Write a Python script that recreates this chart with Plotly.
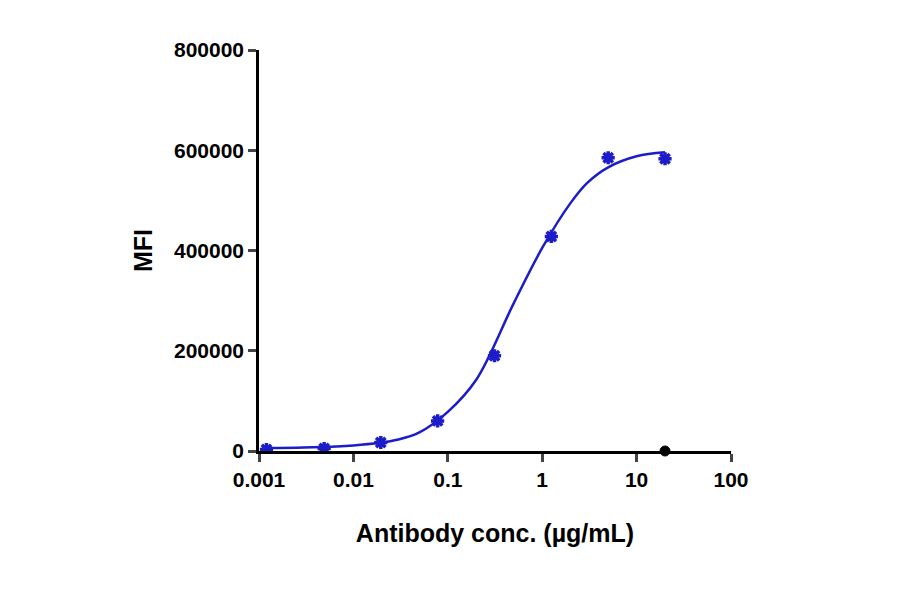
import plotly.graph_objects as go

conc = [20, 5, 1.25, 0.3125, 0.078, 0.0195, 0.0049, 0.0012]
mfi = [583000, 585000, 428000, 190000, 60000, 17000, 5000, 3000]
ctrl_x = [20]
ctrl_y = [0]
fit_x = [0.0012, 0.003, 0.01, 0.03, 0.05, 0.1, 0.2, 0.5, 1, 2, 3, 5, 10, 20]
fit_y = [6000, 7000, 11000, 23000, 37000, 78000, 142000, 295000, 405000, 495000, 535000, 566000, 588000, 596000]
yticks = [0, 200000, 400000, 600000, 800000]
xticks = [0.001, 0.01, 0.1, 1, 10, 100]
xticklabels = ["0.001", "0.01", "0.1", "1", "10", "100"]

blue = "#1c1cc8"
fig = go.Figure()
fig.add_trace(go.Scatter(x=fit_x, y=fit_y, mode="lines", line=dict(color=blue, width=2.5, shape="spline", smoothing=1.0), hoverinfo="skip"))
fig.add_trace(go.Scatter(x=conc, y=mfi, mode="markers",
                         marker=dict(symbol="asterisk-open", size=11, color=blue, line=dict(color=blue, width=3.5))))
fig.add_trace(go.Scatter(x=ctrl_x, y=ctrl_y, mode="markers",
                         marker=dict(symbol="circle", size=10, color="black", line=dict(color="black", width=1)),
                         cliponaxis=False))
font = dict(family="Liberation Sans, Arial", color="black")
fig.update_layout(
    width=900, height=594, showlegend=False, plot_bgcolor="white", paper_bgcolor="white",
    margin=dict(l=251, r=177, t=42, b=151),
    font=font,
    xaxis=dict(type="log", range=[-3, 2], tickvals=xticks, ticktext=["<b>%s</b>" % t for t in xticklabels],
               showgrid=False, zeroline=False, showline=True, linecolor="black", linewidth=2.5,
               ticks="outside", ticklen=8, tickwidth=2.5, tickfont=dict(size=21),
               title=dict(text="<b>Antibody conc. (µg/mL)</b>", font=dict(size=25), standoff=35)),
    yaxis=dict(range=[0, 800000], tickvals=yticks, ticktext=["<b>%d</b>" % v for v in yticks],
               showgrid=False, zeroline=False, showline=True, linecolor="black", linewidth=2.5,
               ticks="outside", ticklen=8, tickwidth=2.5, tickfont=dict(size=21),
               title=dict(text="<b>MFI</b>", font=dict(size=25), standoff=15)),
)
fig.write_html("out.html")
